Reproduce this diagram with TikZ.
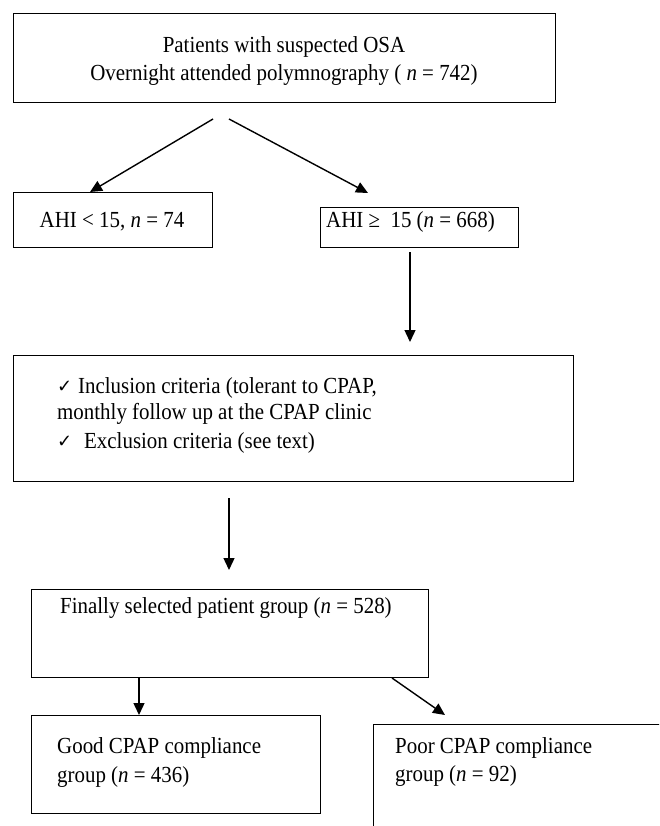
\documentclass[tikz,border=0pt]{standalone}
\usepackage{fontspec}
\setmainfont{Liberation Serif}[FakeStretch=0.91]
\newfontfamily\symfont{DejaVu Sans}
\usetikzlibrary{arrows.meta}
\begin{document}
\begin{tikzpicture}[x=1pt,y=-1pt,
  box/.style={draw, line width=1.25pt, inner sep=0pt, anchor=north west},
  txt/.style={font=\fontsize{23}{28}\selectfont, inner sep=0pt},
  arr/.style={line width=1.4pt, -{Triangle[length=12pt,width=11pt]}},
  ck/.style={font=\symfont\fontsize{18}{20}\selectfont, inner sep=0pt}]
\useasboundingbox (0,0) rectangle (659,826);
\clip (0,0) rectangle (659,826);
\fill[white] (0,0) rectangle (659,826);
% boxes
\node[box, minimum width=542pt, minimum height=89pt] (top) at (13,13) {};
\node[box, minimum width=199pt, minimum height=55pt] (low) at (13,192) {};
\node[box, minimum width=198pt, minimum height=40pt] (high) at (320,207) {};
\node[box, minimum width=560pt, minimum height=126pt] (crit) at (13,355) {};
\node[box, minimum width=397pt, minimum height=88pt] (final) at (31,589) {};
\node[box, minimum width=289pt, minimum height=98pt] (good) at (31,715) {};
\node[box, minimum width=320pt, minimum height=140pt] (poor) at (373,724) {};
% texts
\node[txt, anchor=base] (t1) at (284,53) {Patients with suspected OSA};
\node[txt, anchor=base] (t2) at (284,81) {Overnight attended polymnography ( \textit{n} = 742)};
\node[txt, anchor=base] (tl) at (112,228) {AHI < 15, \textit{n} = 74};
\node[txt, anchor=base west] (th) at (326,227) {AHI ≥\ \ 15 (\textit{n} = 668)};
\node[ck, anchor=base west] (c1) at (57,392) {✓};
\node[txt, anchor=base west] (i1) at (78,393) {Inclusion criteria (tolerant to CPAP,};
\node[txt, anchor=base west] (i2) at (57,419) {monthly follow up at the CPAP clinic};
\node[ck, anchor=base west] (c2) at (57,447) {✓};
\node[txt, anchor=base west] (i3) at (84,448) {Exclusion criteria (see text)};
\node[txt, anchor=base west] (tf) at (60,613) {Finally selected patient group (\textit{n} = 528)};
\node[txt, anchor=base west] (g1) at (57,753) {Good CPAP compliance};
\node[txt, anchor=base west] (g2) at (57,782) {group (\textit{n} = 436)};
\node[txt, anchor=base west] (p1) at (395,753) {Poor CPAP compliance};
\node[txt, anchor=base west] (p2) at (395,781) {group (\textit{n} = 92)};
% arrow end points
\coordinate (s1) at (213,119);
\coordinate (e1) at (90,192);
\coordinate (s2) at (229,119);
\coordinate (e2) at (368,193);
\coordinate (s3) at (410,252);
\coordinate (e3) at (410,342);
\coordinate (s4) at (229,498);
\coordinate (e4) at (229,570);
\coordinate (s5) at (139,678);
\coordinate (e5) at (139,715);
\coordinate (s6) at (392,678);
\coordinate (e6) at (445,715);
\draw[arr] (s1) -- (e1);
\draw[arr] (s2) -- (e2);
\draw[arr] (s3) -- (e3);
\draw[arr] (s4) -- (e4);
\draw[arr] (s5) -- (e5);
\draw[arr] (s6) -- (e6);
\end{tikzpicture}
\end{document}
